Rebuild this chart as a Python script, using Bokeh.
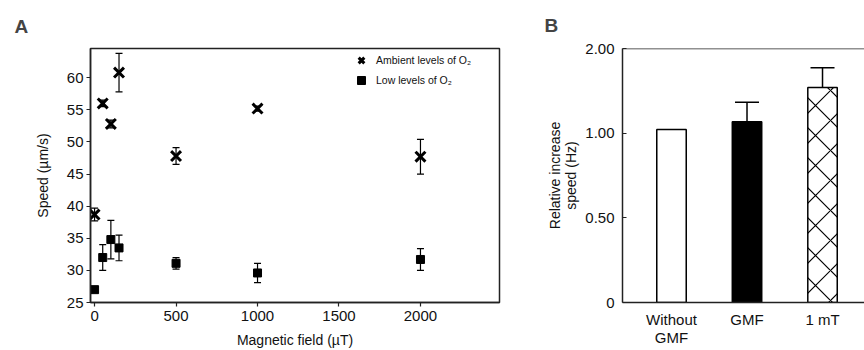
from bokeh.plotting import figure
from bokeh.models import (ColumnDataSource, Whisker, TeeHead, FixedTicker, Span, Legend)
from bokeh.layouts import row
from bokeh.embed import file_html
from bokeh.resources import INLINE

FONT = "Liberation Sans"

# ---------------- Panel A data ----------------
fields = [0, 50, 100, 150, 500, 1000, 2000]
speed_ambient = [38.7, 56.0, 52.8, 60.8, 47.8, 55.2, 47.7]
err_ambient = [1.0, 0.5, 0.6, 3.0, 1.3, 0.4, 2.7]
speed_low = [27.0, 32.0, 34.8, 33.5, 31.1, 29.6, 31.7]
err_low = [0.3, 2.0, 3.0, 2.0, 0.9, 1.5, 1.7]
x_ticks_a = [0, 500, 1000, 1500, 2000]
y_ticks_a = [25, 30, 35, 40, 45, 50, 55, 60]

# ---------------- Panel B data ----------------
conditions = ["Without\nGMF", "GMF", "1 mT"]
rel_speed = [1.022, 1.067, 1.27]
rel_err = [0.0, 0.116, 0.116]
y_ticks_b = [0, 0.5, 1.0, 1.5]
y_tick_labels_b = ["0", "0.50", "1.00", "2.00"]


def style_axes(p):
    for ax in (p.xaxis[0], p.yaxis[0]):
        ax.axis_line_color = "#222222"
        ax.axis_line_width = 1.5
        ax.major_tick_line_color = "#222222"
        ax.major_tick_line_width = 1.2
        ax.minor_tick_line_color = None
        ax.major_label_text_font = FONT
        ax.major_label_text_font_size = "15px"
        ax.major_label_text_color = "#111111"
        ax.axis_label_text_font = FONT
        ax.axis_label_text_font_size = "14px"
        ax.axis_label_text_font_style = "normal"
        ax.axis_label_text_color = "#111111"
    p.xgrid.visible = False
    p.ygrid.visible = False


# ================= Panel A =================
pA = figure(width=530, height=350, x_range=(-25, 2485), y_range=(25.0, 64.55),
            output_backend="svg", toolbar_location=None,
            min_border_left=90, min_border_right=31, min_border_top=48, min_border_bottom=45)
style_axes(pA)
pA.outline_line_color = "#222222"
pA.outline_line_width = 1.5
pA.outline_line_alpha = 1.0
pA.xaxis.ticker = FixedTicker(ticks=x_ticks_a)
pA.yaxis.ticker = FixedTicker(ticks=y_ticks_a)
pA.xaxis.major_tick_in = 0
pA.xaxis.major_tick_out = 4
pA.yaxis.major_tick_in = 0
pA.yaxis.major_tick_out = 4
pA.yaxis.major_label_standoff = 3
pA.xaxis.major_label_standoff = 4
pA.xaxis.axis_label = "Magnetic field (\u00b5T)"
pA.yaxis.axis_label = "Speed (\u00b5m/s)"
pA.xaxis.axis_label_standoff = 8
pA.yaxis.axis_label_standoff = 13

src_amb = ColumnDataSource(dict(x=fields, y=speed_ambient,
                                lo=[v - e for v, e in zip(speed_ambient, err_ambient)],
                                hi=[v + e for v, e in zip(speed_ambient, err_ambient)]))
src_low = ColumnDataSource(dict(x=fields, y=speed_low,
                                lo=[v - e for v, e in zip(speed_low, err_low)],
                                hi=[v + e for v, e in zip(speed_low, err_low)]))

for src in (src_amb, src_low):
    w = Whisker(source=src, base="x", lower="lo", upper="hi", dimension="height",
                line_color="black", line_width=1.2,
                upper_head=TeeHead(size=7, line_color="black", line_width=1.2),
                lower_head=TeeHead(size=7, line_color="black", line_width=1.2))
    pA.add_layout(w)

r_amb = pA.scatter("x", "y", source=src_amb, marker="x", size=14, line_width=3,
                   line_color="black")
r_low = pA.scatter("x", "y", source=src_low, marker="square", size=8,
                   fill_color="black", line_color="black")

legend = Legend(items=[("Ambient levels of O\u2082", [r_amb]), ("Low levels of O\u2082", [r_low])],
                location=(261, 212), background_fill_alpha=0, border_line_color=None,
                label_text_font=FONT, label_text_font_size="10.5px", glyph_width=20,
                glyph_height=20, label_height=13, spacing=-7, padding=4, margin=0,
                label_standoff=5, label_text_color="#111111")
pA.add_layout(legend)

pA.title.text = "A"
pA.title.text_font = FONT
pA.title.text_font_size = "19px"
pA.title.text_font_style = "bold"
pA.title.align = "left"
pA.title.offset = -76
pA.title.standoff = 23

# ================= Panel B =================
xs = [i + 1 for i in range(len(conditions))]
pB = figure(width=334, height=350, x_range=(0.351, 3.556), y_range=(0, 1.5),
            output_backend="svg", toolbar_location=None,
            min_border_left=92, min_border_right=0, min_border_top=48, min_border_bottom=44)
style_axes(pB)
pB.outline_line_color = None
pB.xaxis.ticker = FixedTicker(ticks=xs)
pB.xaxis.major_label_overrides = {x: c for x, c in zip(xs, conditions)}
pB.xaxis.major_tick_line_color = None
pB.xaxis.major_label_standoff = 2
pB.xaxis.major_label_text_line_height = 1.1
pB.yaxis.ticker = FixedTicker(ticks=y_ticks_b)
pB.yaxis.major_label_overrides = {t: l for t, l in zip(y_ticks_b, y_tick_labels_b)}
pB.yaxis.major_tick_in = 4
pB.yaxis.major_tick_out = 0
pB.yaxis.major_label_standoff = 8
pB.yaxis.axis_label = "Relative increase\nspeed (Hz)"
pB.yaxis.axis_label_standoff = 3
pB.yaxis.axis_label_text_line_height = 1.0
pB.add_layout(Span(location=1.5, dimension="width", line_color="#222222", line_width=1.5))

fills = ["white", "black", "white"]
hatches = [" ", " ", "diagonal_cross"]
for x, v, f, h in zip(xs, rel_speed, fills, hatches):
    pB.vbar(x=[x], top=[v], bottom=0, width=0.39, fill_color=f, line_color="black",
            line_width=1.5, hatch_pattern=h, hatch_color="black", hatch_scale=30,
            hatch_weight=1.2)

src_b = ColumnDataSource(dict(x=[x for x, e in zip(xs, rel_err) if e > 0],
                              lo=[v for v, e in zip(rel_speed, rel_err) if e > 0],
                              hi=[v + e for v, e in zip(rel_speed, rel_err) if e > 0]))
pB.add_layout(Whisker(source=src_b, base="x", lower="lo", upper="hi", dimension="height",
                      line_color="black", line_width=1.5,
                      upper_head=TeeHead(size=24, line_color="black", line_width=1.5),
                      lower_head=None))

pB.title.text = "B"
pB.title.text_font = FONT
pB.title.text_font_size = "19px"
pB.title.text_font_style = "bold"
pB.title.align = "left"
pB.title.offset = -78
pB.title.standoff = 25

layout = row(pA, pB)
open("out.html", "w").write(file_html(layout, INLINE))
